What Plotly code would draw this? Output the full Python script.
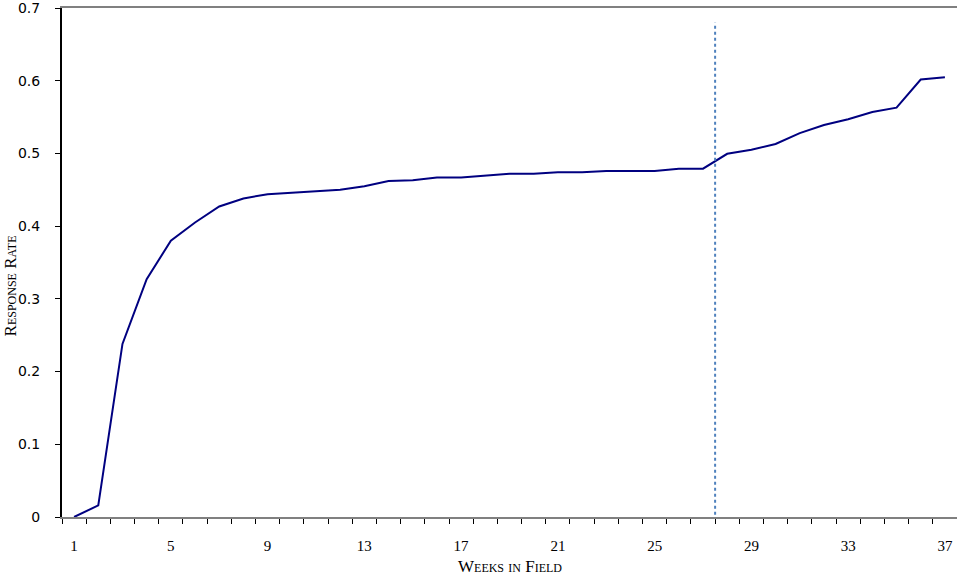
import plotly.graph_objects as go

weeks = list(range(1, 38))
response_rate = [0.000, 0.016, 0.238, 0.327, 0.380, 0.405, 0.427, 0.438, 0.444, 0.446,
                 0.447, 0.450, 0.455, 0.462, 0.463, 0.467, 0.467, 0.470, 0.472, 0.472,
                 0.474, 0.474, 0.476, 0.476, 0.476, 0.479, 0.479, 0.4995, 0.505, 0.513,
                 0.528, 0.539, 0.547, 0.557, 0.563, 0.6016, 0.6047]
x_tick_labels = [1, 5, 9, 13, 17, 21, 25, 29, 33, 37]
y_tick_vals = [0, 0.1, 0.2, 0.3, 0.4, 0.5, 0.6, 0.7]
divider_week = 27.5
divider_span = [-0.005, 0.68]

fig = go.Figure()
fig.add_trace(go.Scatter(x=weeks, y=response_rate, mode="lines",
                         line=dict(color="#000080", width=2), hoverinfo="skip"))
fig.add_trace(go.Scatter(x=[divider_week, divider_week], y=divider_span, mode="lines",
                         line=dict(color="#4F81BD", width=2, dash="dot"), hoverinfo="skip",
                         cliponaxis=False))

fig.update_layout(
    width=957, height=577,
    margin=dict(l=62, r=0, t=5, b=60),
    paper_bgcolor="white", plot_bgcolor="white",
    showlegend=False,
    xaxis=dict(range=[0.5, 37.5], tickmode="array", tickvals=x_tick_labels,
               ticktext=[str(v) for v in x_tick_labels], ticks="", showgrid=False,
               zeroline=False, showline=True, linecolor="#808080", linewidth=2, mirror=True,
               tickfont=dict(family="Liberation Serif", size=15, color="black"),
               ticklabelstandoff=14, ticklabeloverflow="allow",
               minor=dict(tickmode="linear", tick0=0.5, dtick=1, ticks="outside",
                          ticklen=5, tickcolor="black", tickwidth=1, showgrid=False)),
    yaxis=dict(range=[0, 0.7], tickmode="array", tickvals=y_tick_vals,
               ticktext=["0", "0.1", "0.2", "0.3", "0.4", "0.5", "0.6", "0.7"],
               ticks="outside", ticklen=5, tickcolor="black", showgrid=False,
               zeroline=False, showline=True, linecolor="black", linewidth=2,
               ticklabeloverflow="allow", ticklabelstandoff=12,
               tickfont=dict(family="DejaVu Sans", size=14, color="black")),
    annotations=[
        dict(text="Response Rate", xref="paper", yref="paper", x=0, y=0.453,
             xanchor="center", yanchor="middle", xshift=-52, textangle=-90, showarrow=False,
             font=dict(family="Liberation Serif", size=17, color="black", variant="small-caps")),
        dict(text="Weeks in Field", xref="paper", yref="paper", x=0.5, y=0,
             xanchor="center", yanchor="top", yshift=-38, showarrow=False,
             font=dict(family="Liberation Serif", size=17, color="black", variant="small-caps")),
    ],
)

fig.write_html("out.html", config={"displayModeBar": False},
               post_script="document.body.style.margin='0';document.body.style.overflow='hidden';")
